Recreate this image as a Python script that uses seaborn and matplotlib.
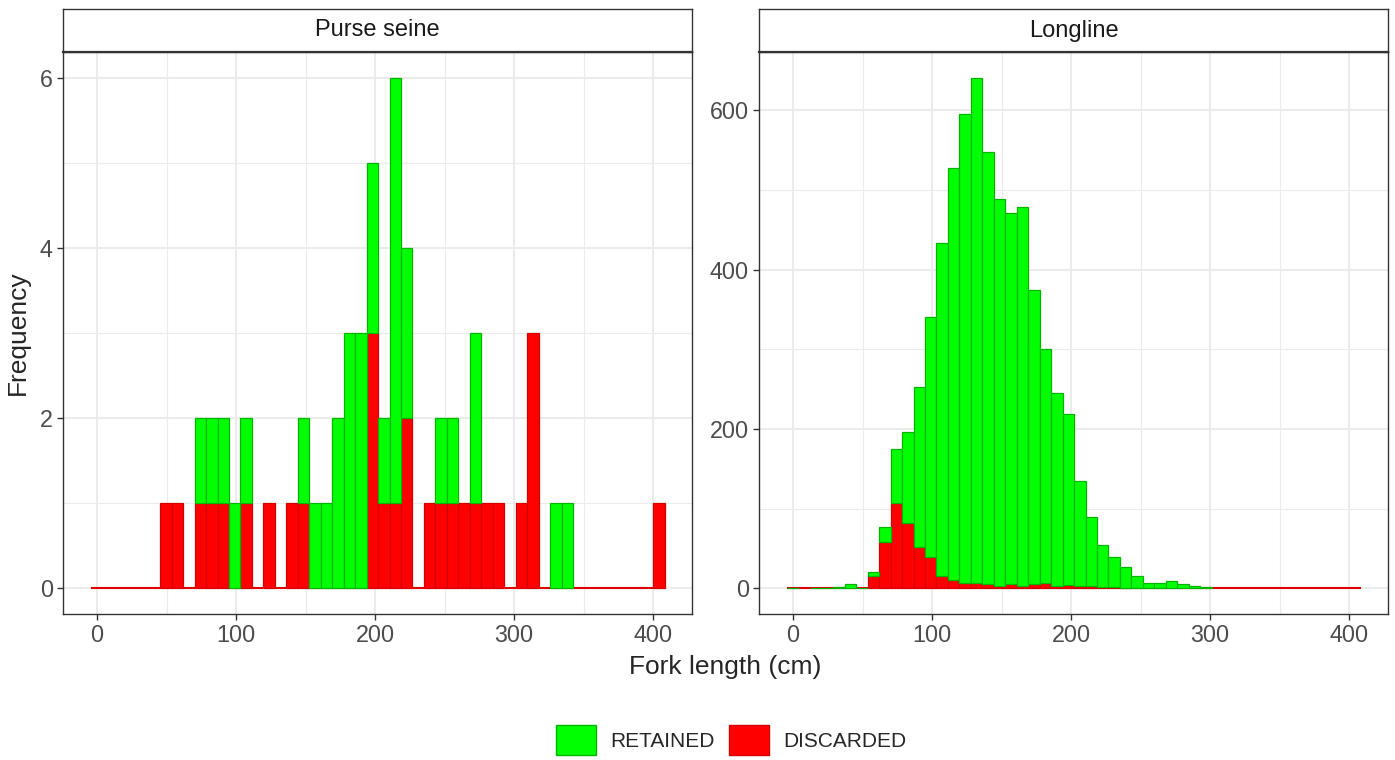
import numpy as np
import pandas as pd
import seaborn as sns
import matplotlib
matplotlib.use("Agg")
import matplotlib.pyplot as plt
from matplotlib.patches import Patch

# shared binning (fork length, cm): 50 bins
bin_lo = -4.1
bin_w = 8.25
n_bins = 50

gears = ["Purse seine", "Longline"]
fates = ["RETAINED", "DISCARDED"]

# counts per bin, bin 0 .. 49
ps_retained = [0, 0, 0, 0, 0, 0, 0, 0, 0, 1,
               1, 1, 1, 1, 0, 0, 0, 0, 1, 1,
               1, 2, 3, 3, 2, 1, 5, 2, 0, 0,
               1, 1, 0, 2, 0, 0, 0, 0, 0, 0,
               1, 1, 0, 0, 0, 0, 0, 0, 0, 0]
ps_discarded = [0, 0, 0, 0, 0, 0, 1, 1, 0, 1,
                1, 1, 0, 1, 0, 1, 0, 1, 1, 0,
                0, 0, 0, 0, 3, 1, 1, 2, 0, 1,
                1, 1, 1, 1, 1, 1, 0, 1, 3, 0,
                0, 0, 0, 0, 0, 0, 0, 0, 0, 1]
ll_retained = [1, 0, 1, 1, 2, 5, 1, 5, 19, 68,
               114, 201, 302, 417, 516, 588, 634, 542, 486, 466,
               476, 369, 294, 242, 215, 132, 87, 52, 37, 26,
               15, 7, 7, 9, 5, 3, 2, 0, 0, 0,
               0, 0, 0, 0, 0, 0, 0, 0, 0, 0]
ll_discarded = [0, 0, 0, 0, 0, 0, 0, 16, 58, 107,
                82, 52, 39, 16, 11, 7, 7, 5, 3, 5,
                3, 5, 7, 3, 4, 3, 3, 2, 2, 1,
                0, 0, 0, 0, 0, 0, 0, 0, 0, 0,
                0, 0, 0, 0, 0, 0, 0, 0, 0, 0]

counts = {
    ("Purse seine", "RETAINED"): ps_retained,
    ("Purse seine", "DISCARDED"): ps_discarded,
    ("Longline", "RETAINED"): ll_retained,
    ("Longline", "DISCARDED"): ll_discarded,
}
y_ticks = {"Purse seine": [0, 2, 4, 6], "Longline": [0, 200, 400, 600]}
y_minor = {"Purse seine": [1, 3, 5], "Longline": [100, 300, 500]}
y_lims = {"Purse seine": (-0.3, 6.3), "Longline": (-32.05, 673.05)}
x_ticks = [0, 100, 200, 300, 400]

edges = bin_lo + bin_w * np.arange(n_bins + 1)
mids = (edges[:-1] + edges[1:]) / 2

rows = []
for (gear, fate), vals in counts.items():
    for m, c in zip(mids, vals):
        rows.append({"gear": gear, "fate": fate, "length": float(m), "count": float(c)})
df = pd.DataFrame(rows)

fill = {"RETAINED": "#00FF00", "DISCARDED": "#FF0000"}
edge = {"RETAINED": "#00B400", "DISCARDED": "#D40000"}

sns.set_theme(style="white")
plt.rcParams["font.family"] = ["Liberation Sans", "DejaVu Sans"]

fig = plt.figure(figsize=(13.95, 7.6), dpi=100)
W, H = 1395, 760
panel_left = [63, 759]
panel_w = 629

for k, gear in enumerate(gears):
    ax = fig.add_axes([panel_left[k] / W, 146 / H, panel_w / W, 562 / H])
    sub = df[df["gear"] == gear].reset_index(drop=True)
    sns.histplot(data=sub, x="length", weights="count", hue="fate",
                 hue_order=fates, multiple="stack", bins=edges.tolist(),
                 palette=fill, alpha=1, linewidth=0.9, legend=False, ax=ax)

    # outline colours; hide empty retained layer so the baseline stays red
    for p in ax.patches:
        r, g, b, _ = p.get_facecolor()
        fate = "RETAINED" if g > r else "DISCARDED"
        p.set_edgecolor(edge[fate])
        if p.get_height() == 0:
            if fate == "RETAINED":
                p.set_visible(False)
            else:
                p.set_edgecolor("#E00000")
                p.set_linewidth(1.5)

    ax.set_xlim(-24.5, 428)
    ax.set_ylim(*y_lims[gear])
    ax.set_xticks(x_ticks)
    ax.set_xticks([50, 150, 250, 350], minor=True)
    ax.set_yticks(y_ticks[gear])
    ax.set_yticks(y_minor[gear], minor=True)
    ax.grid(True, which="major", color="#EBEBEB", lw=1.4)
    ax.grid(True, which="minor", color="#EBEBEB", lw=0.8)
    ax.set_axisbelow(True)
    ax.tick_params(which="major", length=4.3, width=1, color="#333333",
                   labelsize=16.8, labelcolor="#4D4D4D", pad=3,
                   left=True, bottom=True)
    ax.tick_params(which="minor", length=0)
    for s in ax.spines.values():
        s.set_color("#333333")
        s.set_linewidth(1.0)
    ax.set_xlabel("")
    ax.set_ylabel("")

    # facet strip
    st = fig.add_axes([panel_left[k] / W, 708 / H, panel_w / W, 43 / H])
    st.set_xticks([])
    st.set_yticks([])
    st.set_facecolor("white")
    for s in st.spines.values():
        s.set_color("#333333")
        s.set_linewidth(1.0)
    st.spines["bottom"].set_linewidth(1.6)
    st.text(0.5, 0.5, gear, ha="center", va="center", fontsize=17,
            color="#1A1A1A", transform=st.transAxes)

fig.text(725 / W, (H - 667) / H, "Fork length (cm)", ha="center", va="center",
         fontsize=19)
fig.text(18 / W, (H - 333) / H, "Frequency", ha="center", va="center",
         rotation=90, fontsize=19)

handles = [Patch(facecolor=fill[f], edgecolor=edge[f], linewidth=1.0) for f in fates]
fig.legend(handles, fates, loc="center", bbox_to_anchor=(0.5244, 20 / H),
           ncol=2, frameon=False, fontsize=15, handlelength=1.9,
           handleheight=1.9, handletextpad=0.7, columnspacing=0.7)

fig.savefig("out.png", dpi=100)
